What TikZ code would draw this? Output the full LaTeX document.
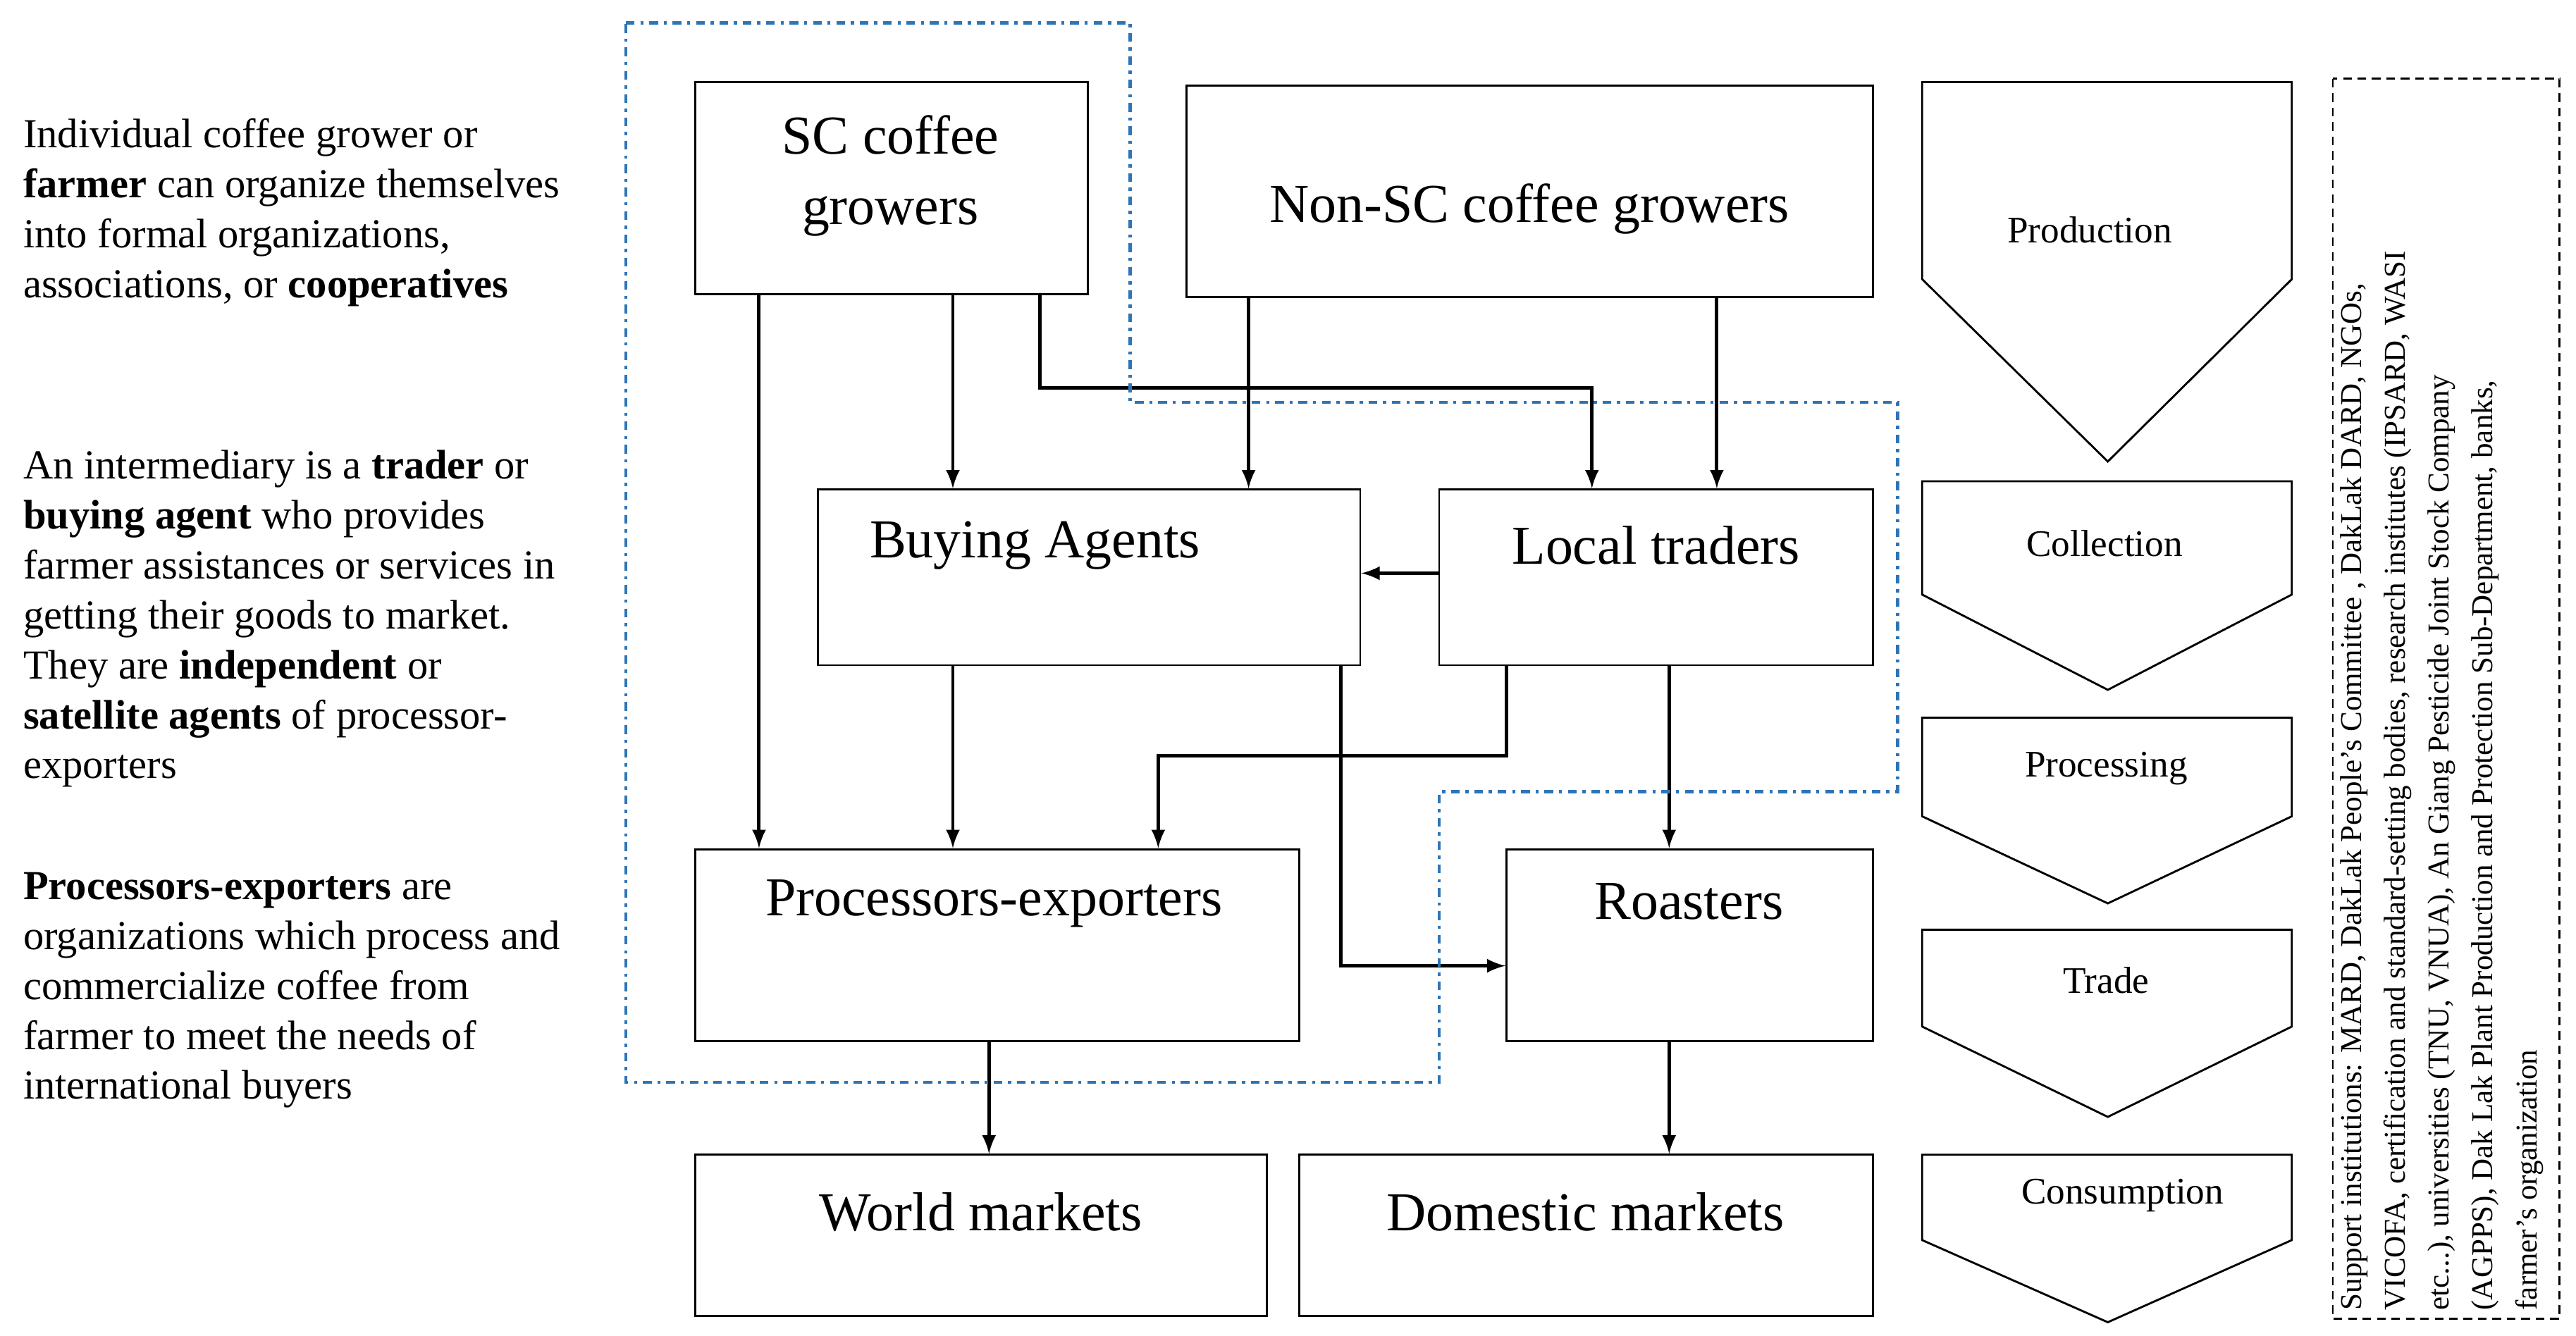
\documentclass[tikz,border=0pt]{standalone}
\usepackage{fontspec}
\setmainfont{Liberation Serif}
\begin{document}
\begin{tikzpicture}[x=0.02cm,y=-0.02cm,
  box/.style={draw,line width=0.7pt,inner sep=0pt},
  boxtxt/.style={font=\fontsize{19}{24.5}\selectfont,align=center},
  stagetxt/.style={font=\fontsize{13}{15}\selectfont},
  note/.style={anchor=north west,align=left,font=\fontsize{14.3}{17.3}\selectfont},
  flow/.style={line width=1.2pt,-latex}]
    \useasboundingbox (0,0) rectangle (1568,813);

    % actors
    \node[box,minimum width=4.78cm,minimum height=2.58cm] (sc) at (542.5,114.5) {};
    \node[box,minimum width=8.36cm,minimum height=2.58cm] (nsc) at (931,116.5) {};
    \node[box,minimum width=6.6cm,minimum height=2.14cm] (buy) at (663,351.5) {};
    \node[box,minimum width=5.28cm,minimum height=2.14cm] (loc) at (1008,351.5) {};
    \node[box,minimum width=7.36cm,minimum height=2.34cm] (pe) at (607,575.5) {};
    \node[box,minimum width=4.46cm,minimum height=2.34cm] (ro) at (1028.5,575.5) {};
    \node[box,minimum width=6.96cm,minimum height=1.96cm] (wm) at (597,752) {};
    \node[box,minimum width=6.98cm,minimum height=1.96cm] (dm) at (965.5,752) {};
    \node[boxtxt] (sct) at (542,107) {SC coffee\\growers};
    \node[boxtxt] (nsct) at (931,127) {Non-SC coffee growers};
    \node[boxtxt] (buyt) at (630,332) {Buying Agents};
    \node[boxtxt] (loct) at (1008,332) {Local traders};
    \node[boxtxt] (pet) at (605,550) {Processors-exporters};
    \node[boxtxt] (rot) at (1028,549) {Roasters};
    \node[boxtxt] (wmt) at (597,738) {World markets};
    \node[boxtxt] (dmt) at (965,738) {Domestic markets};

    % flows
    \draw[flow] (sc.south -| 462,0) -- (pe.north -| 462,0);
    \draw[flow] (sc.south -| 580,0) -- (buy.north -| 580,0);
    \draw[flow] (sc.south -| 633,0) |- (969,236) -- (loc.north -| 969,0);
    \draw[flow] (nsc.south -| 760,0) -- (buy.north -| 760,0);
    \draw[flow] (nsc.south -| 1045,0) -- (loc.north -| 1045,0);
    \draw[flow] (loc.west |- 0,349) -- (buy.east |- 0,349);
    \draw[flow] (buy.south -| 580,0) -- (pe.north -| 580,0);
    \draw[flow] (loc.south -| 917,0) |- (705,460) -- (pe.north -| 705,0);
    \draw[flow] (buy.south -| 816,0) |- (ro.west |- 0,588);
    \draw[flow] (loc.south -| 1016,0) -- (ro.north -| 1016,0);
    \draw[flow] (pe.south -| 602,0) -- (wm.north -| 602,0);
    \draw[flow] (ro.south -| 1016,0) -- (dm.north -| 1016,0);

    % SC boundary
    \draw[color={rgb,255:red,46;green,117;blue,182},line width=1.1pt,dash dot]
    (381,14) -- (688,14) -- (688,245) -- (1155,245) -- (1155,482)
    -- (876,482) -- (876,659) -- (381,659) -- cycle;

    % stages
    \draw[line width=0.7pt] (1170,50) -- (1395,50) -- (1395,170) -- (1283,281) -- (1170,170) -- cycle;
    \draw[line width=0.7pt] (1170,293) -- (1395,293) -- (1395,362) -- (1283,420) -- (1170,362) -- cycle;
    \draw[line width=0.7pt] (1170,437) -- (1395,437) -- (1395,497) -- (1283,550) -- (1170,497) -- cycle;
    \draw[line width=0.7pt] (1170,566) -- (1395,566) -- (1395,625) -- (1283,680) -- (1170,625) -- cycle;
    \draw[line width=0.7pt] (1170,703) -- (1395,703) -- (1395,755) -- (1283,805) -- (1170,755) -- cycle;
    \node[stagetxt] (prod) at (1272,140) {Production};
    \node[stagetxt] (coll) at (1281,331) {Collection};
    \node[stagetxt] (proc) at (1282,468) {Processing};
    \node[stagetxt] (trad) at (1282,597) {Trade};
    \node[stagetxt] (cons) at (1292,728) {Consumption};

    % support institutions
    \draw[densely dashed,line width=0.7pt] (1420,48) rectangle (1558,803);
    \node[rotate=90,anchor=north west,align=left,inner sep=0pt,
      font=\fontsize{10.5}{15.2}\selectfont] (sup) at (1424,798)
    {Support institutions: MARD, DakLak People's Committee , DakLak DARD, NGOs,\\
     VICOFA, certification and standard-setting bodies, research institutes (IPSARD, WASI\\
     etc...), universities (TNU, VNUA), An Giang Pesticide Joint Stock Company\\
     (AGPPS), Dak Lak Plant Production and Protection Sub-Department, banks,\\
     farmer's organization};

    % notes
    \node[note] (n1) at (8,66) {Individual coffee grower or\\\textbf{farmer} can organize themselves\\into formal organizations,\\associations, or \textbf{cooperatives}};
    \node[note] (n2) at (8,268) {An intermediary is a \textbf{trader} or\\\textbf{buying agent} who provides\\farmer assistances or services in\\getting their goods to market.\\They are \textbf{independent} or\\\textbf{satellite agents} of processor-\\exporters};
    \node[note] (n3) at (8,525) {\textbf{Processors-exporters} are\\organizations which process and\\commercialize coffee from\\farmer to meet the needs of\\international buyers};
\end{tikzpicture}
\end{document}
